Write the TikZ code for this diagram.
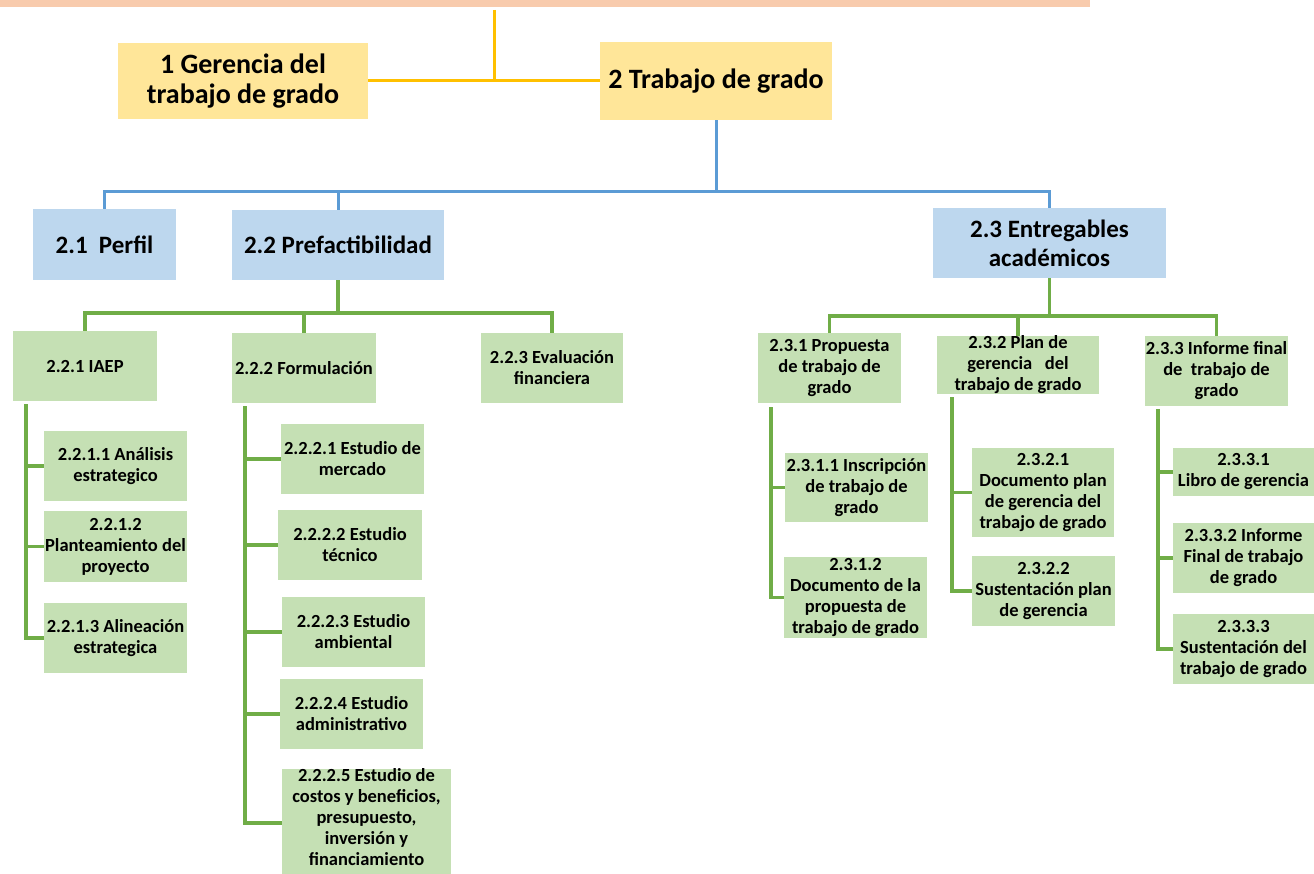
\documentclass[tikz,border=0pt]{standalone}
\usepackage{fontspec}
\setmainfont{Carlito}
\definecolor{rootfill}{HTML}{F8CBAD}
\definecolor{yfill}{HTML}{FFE699}
\definecolor{yline}{HTML}{FFC000}
\definecolor{bfill}{HTML}{BDD7EE}
\definecolor{bline}{HTML}{5B9BD5}
\definecolor{gfill}{HTML}{C5E0B4}
\definecolor{gline}{HTML}{70AD47}
\begin{document}
\begin{tikzpicture}[x=1pt,y=-1pt,
	yellowbox/.style={fill=yfill,inner sep=0pt,align=center,font=\bfseries\fontsize{28}{30}\selectfont},
	bluebox/.style={fill=bfill,inner sep=0pt,align=center,font=\bfseries\fontsize{25}{29}\selectfont},
	greenbox/.style={fill=gfill,inner sep=0pt,align=center,font=\bfseries\fontsize{18.5}{21}\selectfont,
		minimum width=143pt,minimum height=70pt},
	yconn/.style={draw=yline,line width=3pt},
	bconn/.style={draw=bline,line width=3pt},
	gconn/.style={draw=gline,line width=3.5pt}]

	\useasboundingbox (0,0) rectangle (1314,874);

	% top band (cut-off root)
	\fill[rootfill] (0,-60) rectangle (1090,7);
	\coordinate (top) at (494,10);

	\node[yellowbox,minimum width=250pt,minimum height=76pt] (g1) at (243,81) {1 Gerencia del\\trabajo de grado};
	\node[yellowbox,minimum width=232pt,minimum height=78pt] (t2) at (716,81) {2 Trabajo de grado};

	\node[bluebox,minimum width=143pt,minimum height=71pt] (p21) at (104.5,244.5) {2.1~~Perfil};
	\node[bluebox,minimum width=212pt,minimum height=70pt] (p22) at (338,245) {2.2 Prefactibilidad};
	\node[bluebox,minimum width=233pt,minimum height=70pt] (p23) at (1049.5,243) {2.3 Entregables\\acad\'emicos};

	\node[greenbox,minimum width=144pt] (a221) at (85,366) {2.2.1 IAEP};
	\node[greenbox,minimum width=144pt] (a222) at (304,368) {2.2.2 Formulaci\'on};
	\node[greenbox,minimum width=142pt] (a223) at (552,368) {2.2.3 Evaluaci\'on\\financiera};
	\node[greenbox] (a231) at (829.5,368) {2.3.1 Propuesta\\de trabajo de\\grado};
	\node[greenbox,minimum width=162pt,minimum height=58pt] (a232) at (1018,365) {2.3.2 Plan de\\gerencia~~~del\\trabajo de grado};
	\node[greenbox] (a233) at (1216.5,371) {2.3.3 Informe final\\de~~trabajo de\\grado};

	\node[greenbox] (a2211) at (115.5,466) {2.2.1.1 An\'alisis\\estrategico};
	\node[greenbox,minimum height=71pt] (a2212) at (115.5,546.5) {2.2.1.2\\Planteamiento del\\proyecto};
	\node[greenbox] (a2213) at (115.5,638) {2.2.1.3 Alineaci\'on\\estrategica};

	\node[greenbox] (a2221) at (352.5,459) {2.2.2.1 Estudio de\\mercado};
	\node[greenbox,minimum width=144pt] (a2222) at (350,545) {2.2.2.2 Estudio\\t\'ecnico};
	\node[greenbox] (a2223) at (353.5,632) {2.2.2.3 Estudio\\ambiental};
	\node[greenbox] (a2224) at (351.5,714) {2.2.2.4 Estudio\\administrativo};
	\node[greenbox,minimum width=169pt,minimum height=121pt] (a2225) at (366.5,829.5) {2.2.2.5 Estudio de\\costos y beneficios,\\presupuesto,\\inversi\'on y\\financiamiento\\[4pt]};

	\node[greenbox,minimum height=69pt] (a2311) at (856.5,487.5) {2.3.1.1 Inscripci\'on\\de trabajo de\\grado};
	\node[greenbox,minimum height=81pt] (a2312) at (855.5,597.5) {2.3.1.2\\Documento de la\\propuesta de\\trabajo de grado};

	\node[greenbox,minimum width=142pt,minimum height=89pt] (a2321) at (1043,492.5) {2.3.2.1\\Documento plan\\de gerencia del\\trabajo de grado};
	\node[greenbox] (a2322) at (1043.5,591) {2.3.2.2\\Sustentaci\'on plan\\de gerencia};

	\node[greenbox,minimum width=141pt,minimum height=48pt] (a2331) at (1243.5,472) {2.3.3.1\\Libro de gerencia};
	\node[greenbox,minimum width=141pt] (a2332) at (1243.5,558) {2.3.3.2 Informe\\Final de trabajo\\de grado};
	\node[greenbox,minimum width=141pt] (a2333) at (1243.5,649) {2.3.3.3\\Sustentaci\'on del\\trabajo de grado};

	% yellow level
	\draw[yconn] (g1.east) -- (t2.west);
	\draw[yconn] (top) -- (top |- g1.east);

	% blue level
	\coordinate (bj) at (716,192);
	\draw[bconn] (t2.south) -- (bj);
	\draw[bconn] (p21.north) |- (bj) -| (p23.north);
	\draw[bconn] (p22.north) |- (bj);

	% green level
	\coordinate (gj1) at (338,313);
	\draw[gconn] (p22.south) -- (gj1);
	\draw[gconn] (a221.north) |- (gj1) -| (a223.north);
	\draw[gconn] (a222.north) |- (gj1);

	\coordinate (gj2) at (1049.5,316);
	\draw[gconn] (p23.south) -- (gj2);
	\draw[gconn] (a231.north) |- (gj2) -| (a233.north);
	\draw[gconn] (a232.north) |- (gj2);

	% side branches
	\coordinate (v221) at (26,404);
	\foreach \c in {a2211,a2212,a2213}
		\draw[gconn] (v221) |- (\c.west);
	\coordinate (v222) at (245,406);
	\foreach \c in {a2221,a2222,a2223,a2224}
		\draw[gconn] (v222) |- (\c.west);
	\draw[gconn] (v222) |- (a2225.west |- 0,823);
	\coordinate (v231) at (771,407);
	\foreach \c in {a2311,a2312}
		\draw[gconn] (v231) |- (\c.west);
	\coordinate (v232) at (952,397);
	\draw[gconn] (v232) |- (a2321.west);
	\draw[gconn] (v232) |- (a2322.west);
	\coordinate (v233) at (1158,409);
	\foreach \c in {a2331,a2332,a2333}
		\draw[gconn] (v233) |- (\c.west);

\end{tikzpicture}
\end{document}
